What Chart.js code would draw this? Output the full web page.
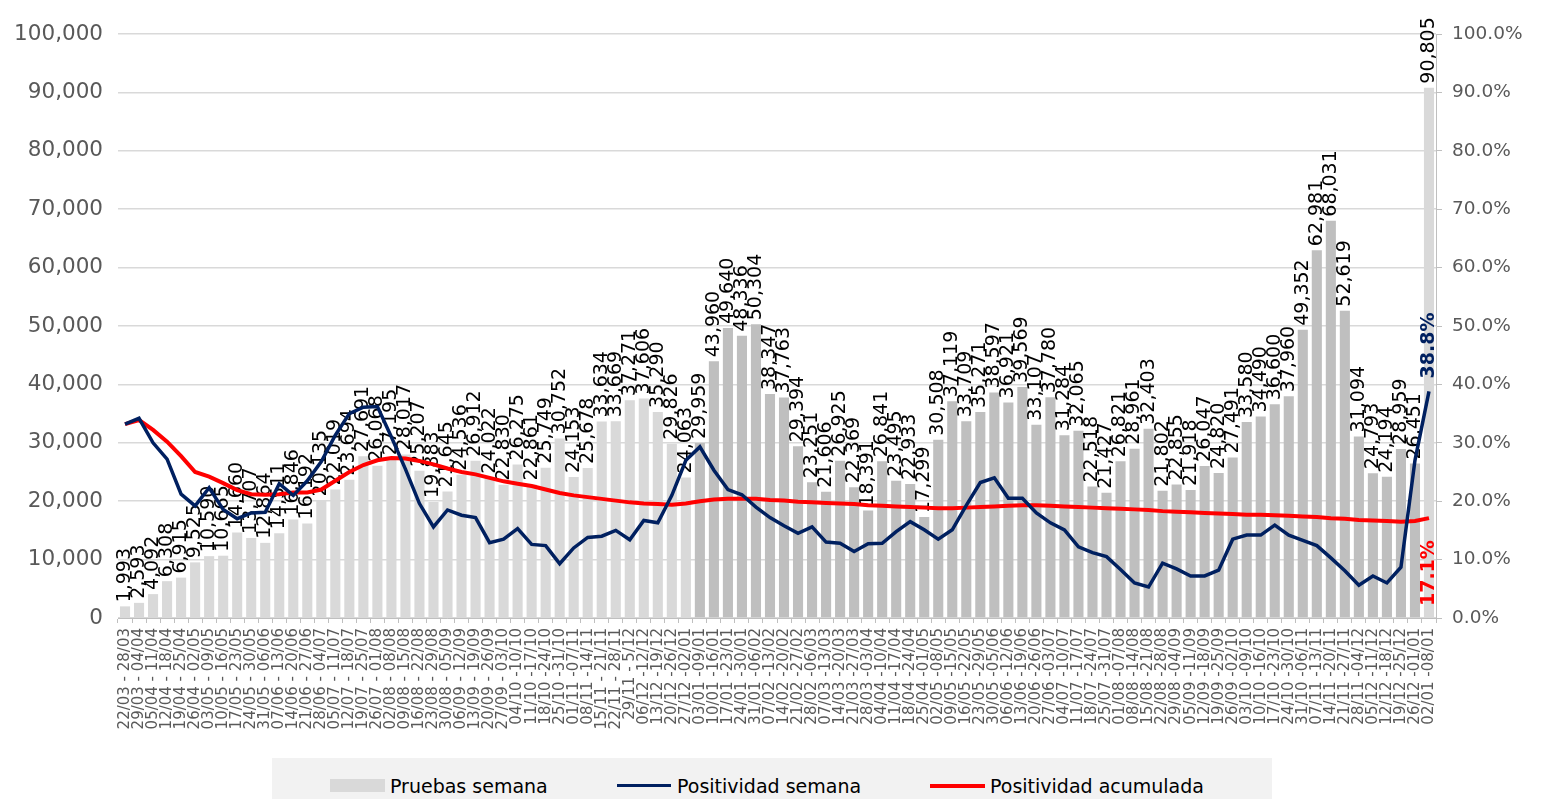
<!DOCTYPE html>
<html>
<head>
<meta charset="utf-8">
<script src="https://cdn.jsdelivr.net/npm/chart.js@4.4.1/dist/chart.umd.min.js"></script>
<style>
  body { margin: 0; background: #fff; overflow: hidden; }
  #wrap { position: relative; width: 1544px; height: 758px; }
  #legend { position: absolute; left: 272px; top: 758px; width: 1000px; height: 41px; background: #f2f2f2;
            font: 19px "DejaVu Sans", sans-serif; color: #000; }
  #legend span { position: absolute; }
  #legend .txt { top: 17px; line-height: 22px; white-space: nowrap; }
</style>
</head>
<body>
<div id="wrap"><canvas id="testsChart" width="1544" height="758"></canvas></div>
<div id="legend">
  <span style="left:58px;top:21px;width:55px;height:13px;background:#d9d9d9"></span>
  <span class="txt" style="left:118px">Pruebas semana</span>
  <span style="left:345px;top:26px;width:54px;height:3px;background:#002060"></span>
  <span class="txt" style="left:405px">Positividad semana</span>
  <span style="left:658px;top:26px;width:55px;height:4px;background:#ff0000"></span>
  <span class="txt" style="left:718px">Positividad acumulada</span>
</div>
<script>
const weekLabels = [
  '22/03 - 28/03', '29/03 - 04/04', '05/04 - 11/04', '12/04 - 18/04', '19/04 - 25/04', '26/04 - 02/05',
  '03/05 - 09/05', '10/05 - 16/05', '17/05 - 23/05', '24/05 - 30/05', '31/05 - 06/06', '07/06 - 13/06',
  '14/06 - 20/06', '21/06 - 27/06', '28/06 - 04/07', '05/07 - 11/07', '12/07 - 18/07', '19/07 - 25/07',
  '26/07 - 01/08', '02/08 - 08/08', '09/08 - 15/08', '16/08 - 22/08', '23/08 - 29/08', '30/08 - 05/09',
  '06/09 - 12/09', '13/09 - 19/09', '20/09 - 26/09', '27/09 - 03/10', '04/10 -10/10', '11/10 -17/10',
  '18/10 -24/10', '25/10 -31/10', '01/11 -07/11', '08/11 -14/11', '15/11 - 21/11', '22/11 - 28/11',
  '29/11 - 5/12', '06/12 -12/12', '13/12 -19/12', '20/12 -26/12', '27/12 -02/01', '03/01 -09/01',
  '10/01 -16/01', '17/01 -23/01', '24/01 -30/01', '31/01 -06/02', '07/02 -13/02', '14/02 -20/02',
  '21/02 -27/02', '28/02 -06/03', '07/03 -13/03', '14/03 -20/03', '21/03 -27/03', '28/03 -03/04',
  '04/04 -10/04', '11/04 -17/04', '18/04 -24/04', '25/04 -01/05', '02/05 -08/05', '09/05 -15/05',
  '16/05 -22/05', '23/05 -29/05', '30/05 -05/06', '06/06 -12/06', '13/06 -19/06', '20/06 -26/06',
  '27/06 -03/07', '04/07 -10/07', '11/07 -17/07', '18/07 -24/07', '25/07 -31/07', '01/08 -07/08',
  '08/08 -14/08', '15/08 -21/08', '22/08 -28/08', '29/08 -04/09', '05/09 -11/09', '12/09 -18/09',
  '19/09 -25/09', '26/09 -02/10', '03/10 -09/10', '10/10 -16/10', '17/10 -23/10', '24/10 -30/10',
  '31/10 -06/11', '07/11 -13/11', '14/11 -20/11', '21/11 -27/11', '28/11 -04/12', '05/12 -11/12',
  '12/12 -18/12', '19/12 -25/12', '26/12 -01/01', '02/01 -08/01'
];

// pruebas por semana
const weeklyTests = [
  1993, 2593, 4092, 6308, 6915, 9525, 10590, 10665, 14660, 13707, 12864, 14511,
  16846, 16192, 20135, 22019, 23694, 27691, 26068, 27195, 28017, 25207, 19883, 21645,
  24536, 26912, 24022, 22830, 26275, 22861, 25749, 30752, 24153, 25678, 33634, 33669,
  37271, 37606, 35290, 29826, 24063, 29959, 43960, 49640, 48336, 50304, 38347, 37763,
  29394, 23251, 21606, 26925, 22369, 18391, 26841, 23495, 22933, 17299, 30508, 37119,
  33709, 35271, 38597, 36921, 39569, 33107, 37780, 31284, 32065, 22518, 21427, 26821,
  28961, 32403, 21802, 22855, 21918, 26047, 24820, 27491, 33580, 34490, 36600, 37960,
  49352, 62981, 68031, 52619, 31094, 24793, 24194, 28959, 26451, 90805
];

// % positividad semanal
const weeklyPositivity = [
  33.2, 34.2, 30.0, 27.2, 21.2, 19.2, 22.3, 18.6, 17.0, 18.0, 18.1, 23.0,
  21.0, 23.5, 26.8, 31.3, 35.0, 36.1, 36.2, 31.0, 25.5, 19.6, 15.6, 18.5,
  17.6, 17.2, 12.9, 13.5, 15.3, 12.6, 12.4, 9.3, 12.0, 13.8, 14.0, 15.0,
  13.4, 16.7, 16.3, 21.0, 27.0, 29.3, 25.3, 22.0, 21.1, 19.0, 17.2, 15.8,
  14.5, 15.6, 13.0, 12.8, 11.4, 12.7, 12.8, 14.8, 16.5, 15.1, 13.5, 15.1,
  19.3, 23.2, 24.0, 20.5, 20.5, 18.0, 16.3, 15.1, 12.2, 11.2, 10.5, 8.3,
  6.0, 5.3, 9.4, 8.4, 7.2, 7.2, 8.2, 13.5, 14.2, 14.2, 15.9, 14.2,
  13.3, 12.4, 10.3, 8.1, 5.6, 7.2, 6.0, 8.7, 27.0, 38.8
];

// % positividad acumulada
const cumulativePositivity = [
  33.2, 33.9, 32.2, 30.2, 27.7, 25.0, 24.2, 23.1, 21.9, 21.2, 21.1, 21.2,
  21.5, 21.5, 22.0, 23.5, 25.0, 26.2, 27.0, 27.4, 27.3, 26.9, 26.3, 25.6,
  25.0, 24.6, 24.0, 23.4, 23.0, 22.6, 22.0, 21.4, 21.0, 20.7, 20.4, 20.1,
  19.8, 19.6, 19.5, 19.4, 19.6, 20.0, 20.3, 20.4, 20.4, 20.4, 20.2, 20.1,
  19.9, 19.8, 19.7, 19.6, 19.5, 19.3, 19.2, 19.1, 19.0, 18.9, 18.8, 18.8,
  18.9, 19.0, 19.1, 19.2, 19.3, 19.3, 19.2, 19.1, 19.0, 18.9, 18.8, 18.7,
  18.6, 18.5, 18.3, 18.2, 18.1, 18.0, 17.9, 17.8, 17.7, 17.7, 17.6, 17.5,
  17.4, 17.3, 17.1, 17.0, 16.8, 16.7, 16.6, 16.5, 16.6, 17.1
];

const firstWeek2021 = 41;
const firstWeek2022 = 93;

const fmt = v => String(v).replace(/\B(?=(\d{3})+(?!\d))/g, ',');

const barColors = weeklyTests.map((v, i) =>
  (i >= firstWeek2021 && i < firstWeek2022) ? '#bfbfbf' : '#d9d9d9');

Chart.defaults.font.family = '"DejaVu Sans", sans-serif';

const valueLabels = {
  id: 'valueLabels',
  afterDatasetDraw(chart, args) {
    if (args.index !== 2) return;
    const ctx = chart.ctx;
    ctx.save();
    ctx.font = '19px "DejaVu Sans"';
    ctx.fillStyle = '#000';
    ctx.textAlign = 'left';
    ctx.textBaseline = 'middle';
    args.meta.data.forEach((bar, i) => {
      ctx.save();
      ctx.translate(bar.x, bar.y - 4);
      ctx.rotate(-Math.PI / 2);
      ctx.fillText(fmt(weeklyTests[i]), 0, 0);
      ctx.restore();
    });
    ctx.restore();
  },
  afterDatasetsDraw(chart) {
    const ctx = chart.ctx;
    const last = weeklyTests.length - 1;
    const pw = chart.getDatasetMeta(0).data[last];
    const pc = chart.getDatasetMeta(1).data[last];
    ctx.save();
    ctx.font = 'bold 19px "DejaVu Sans"';
    ctx.textBaseline = 'middle';
    ctx.fillStyle = '#002060';
    ctx.textAlign = 'left';
    ctx.translate(pw.x, pw.y - 13);
    ctx.rotate(-Math.PI / 2);
    ctx.fillText(weeklyPositivity[last].toFixed(1) + '%', 0, 0);
    ctx.restore();
    ctx.save();
    ctx.font = 'bold 19px "DejaVu Sans"';
    ctx.textBaseline = 'middle';
    ctx.fillStyle = '#ff0000';
    ctx.textAlign = 'right';
    ctx.translate(pc.x, pc.y + 22);
    ctx.rotate(-Math.PI / 2);
    ctx.fillText(cumulativePositivity[last].toFixed(1) + '%', 0, 0);
    ctx.restore();
  }
};

new Chart('testsChart', {
  type: 'bar',
  data: {
    labels: weekLabels,
    datasets: [
      {
        type: 'line',
        label: 'Positividad semana',
        data: weeklyPositivity,
        yAxisID: 'y1',
        borderColor: '#002060',
        borderWidth: 3.5,
        pointRadius: 0,
        tension: 0,
        order: 1
      },
      {
        type: 'line',
        label: 'Positividad acumulada',
        data: cumulativePositivity,
        yAxisID: 'y1',
        borderColor: '#ff0000',
        borderWidth: 4,
        pointRadius: 0,
        tension: 0,
        order: 2
      },
      {
        type: 'bar',
        label: 'Pruebas semana',
        data: weeklyTests,
        yAxisID: 'y',
        backgroundColor: barColors,
        barPercentage: 0.72,
        categoryPercentage: 1,
        order: 3
      }
    ]
  },
  options: {
    responsive: false,
    animation: false,
    layout: { padding: { top: 34, right: 0, left: 0, bottom: 0 } },
    plugins: { legend: { display: false }, tooltip: { enabled: false } },
    scales: {
      x: {
        grid: { display: true, drawOnChartArea: false, offset: true, tickLength: 5, color: '#bfbfbf' },
        border: { display: true, color: '#bfbfbf' },
        ticks: { autoSkip: false, minRotation: 90, maxRotation: 90, color: '#595959', padding: 5,
                 font: { size: 15 } },
        afterFit: s => { s.height = 140; }
      },
      y: {
        position: 'left',
        min: 0,
        max: 100000,
        ticks: { stepSize: 10000, color: '#595959', padding: 15, font: { size: 21.5 }, callback: v => fmt(v) },
        grid: { color: '#d9d9d9', lineWidth: 1.5, drawTicks: false },
        border: { display: false },
        afterFit: s => { s.width = 118; }
      },
      y1: {
        position: 'right',
        min: 0,
        max: 100,
        ticks: { stepSize: 10, color: '#595959', padding: 10, font: { size: 18.5 }, callback: v => v.toFixed(1) + '%' },
        grid: { drawOnChartArea: false, tickLength: 6, color: '#bfbfbf' },
        border: { display: true, color: '#bfbfbf' },
        afterFit: s => { s.width = 108; }
      }
    }
  },
  plugins: [valueLabels]
});
</script>
</body>
</html>
